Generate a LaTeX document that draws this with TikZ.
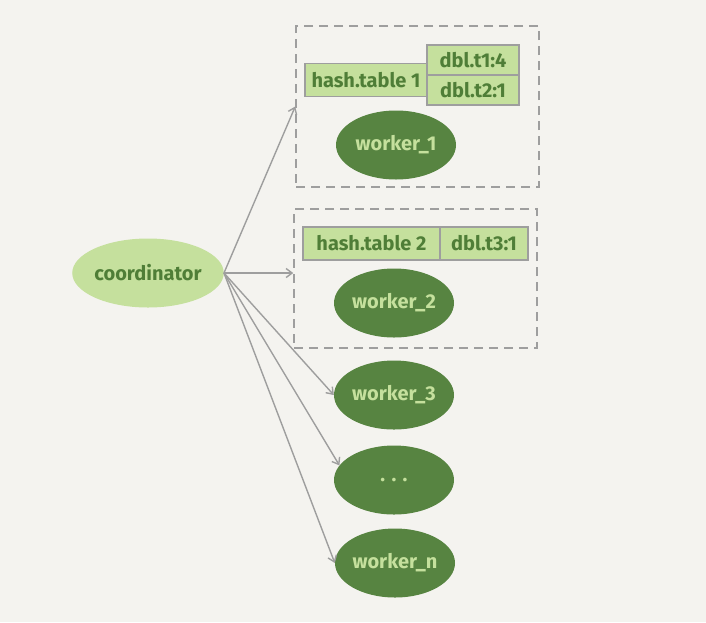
\documentclass[tikz,border=0pt]{standalone}
\usepackage{fontspec}
\setmainfont{Fira Sans}
\usetikzlibrary{arrows.meta,positioning,shapes.geometric}
\definecolor{paper}{HTML}{F4F3EF}
\definecolor{leaf}{HTML}{C5E09D}
\definecolor{moss}{HTML}{578441}
\definecolor{ink}{HTML}{4F7E37}
\definecolor{rule}{HTML}{9E9E9E}

\begin{document}
\begin{tikzpicture}[
  x=1pt, y=-1pt,
  font=\fontsize{20}{23}\selectfont\bfseries,
  coord/.style={ellipse, fill=leaf, text=ink, minimum width=150pt, minimum height=69pt, inner sep=0pt},
  worker/.style={ellipse, fill=moss, text=leaf, minimum width=120pt, minimum height=69pt, inner sep=0pt},
  cell/.style={draw=rule, line width=1.2pt, fill=leaf, text=ink, minimum height=30pt, inner sep=0pt, outer sep=0pt},
  group/.style={draw=rule, line width=1.5pt, dash pattern=on 9pt off 6pt, inner sep=0pt},
  arrow/.style={-{Straight Barb[length=6pt, width=9pt]}, rule, line width=1.4pt}
]
\useasboundingbox[fill=paper] (0,0) rectangle (706,622);

\node[group, minimum width=243pt, minimum height=161pt] (grp1) at (417.5,106.5) {};
\node[group, minimum width=243pt, minimum height=139pt] (grp2) at (415.5,278.5) {};

\node[coord] (coord) at (148,273) {coordinator};

\node[cell, minimum width=122pt, minimum height=33pt] (ht1) at (366,80) {hash.table 1};
\node[cell, minimum width=92pt] (t1) at (473,60) {dbl.t1:4};
\node[cell, minimum width=92pt, below=0pt of t1] (t2) {dbl.t2:1};
\node[worker] (w1) at (396,145) {worker\_1};

\node[cell, minimum width=137pt, minimum height=33pt] (ht2) at (371.5,243.5) {hash.table 2};
\node[cell, minimum width=88pt, minimum height=33pt, right=0pt of ht2] (t3) {dbl.t3:1};
\node[worker] (w2) at (394,303) {worker\_2};

\node[worker] (w3) at (394,395) {worker\_3};
\node[worker] (wdots) at (394,480) {. . .};
\node[worker] (wn) at (395,563) {worker\_n};

\draw[arrow] (coord.east) -- (grp1.west);
\draw[arrow] (coord.east) -- (coord.east -| grp2.west);
\draw[arrow] (coord.east) -- (w3.west);
\draw[arrow] (coord.east) -- (wdots.165);
\draw[arrow] (coord.east) -- (wn.west);
\end{tikzpicture}
\end{document}
